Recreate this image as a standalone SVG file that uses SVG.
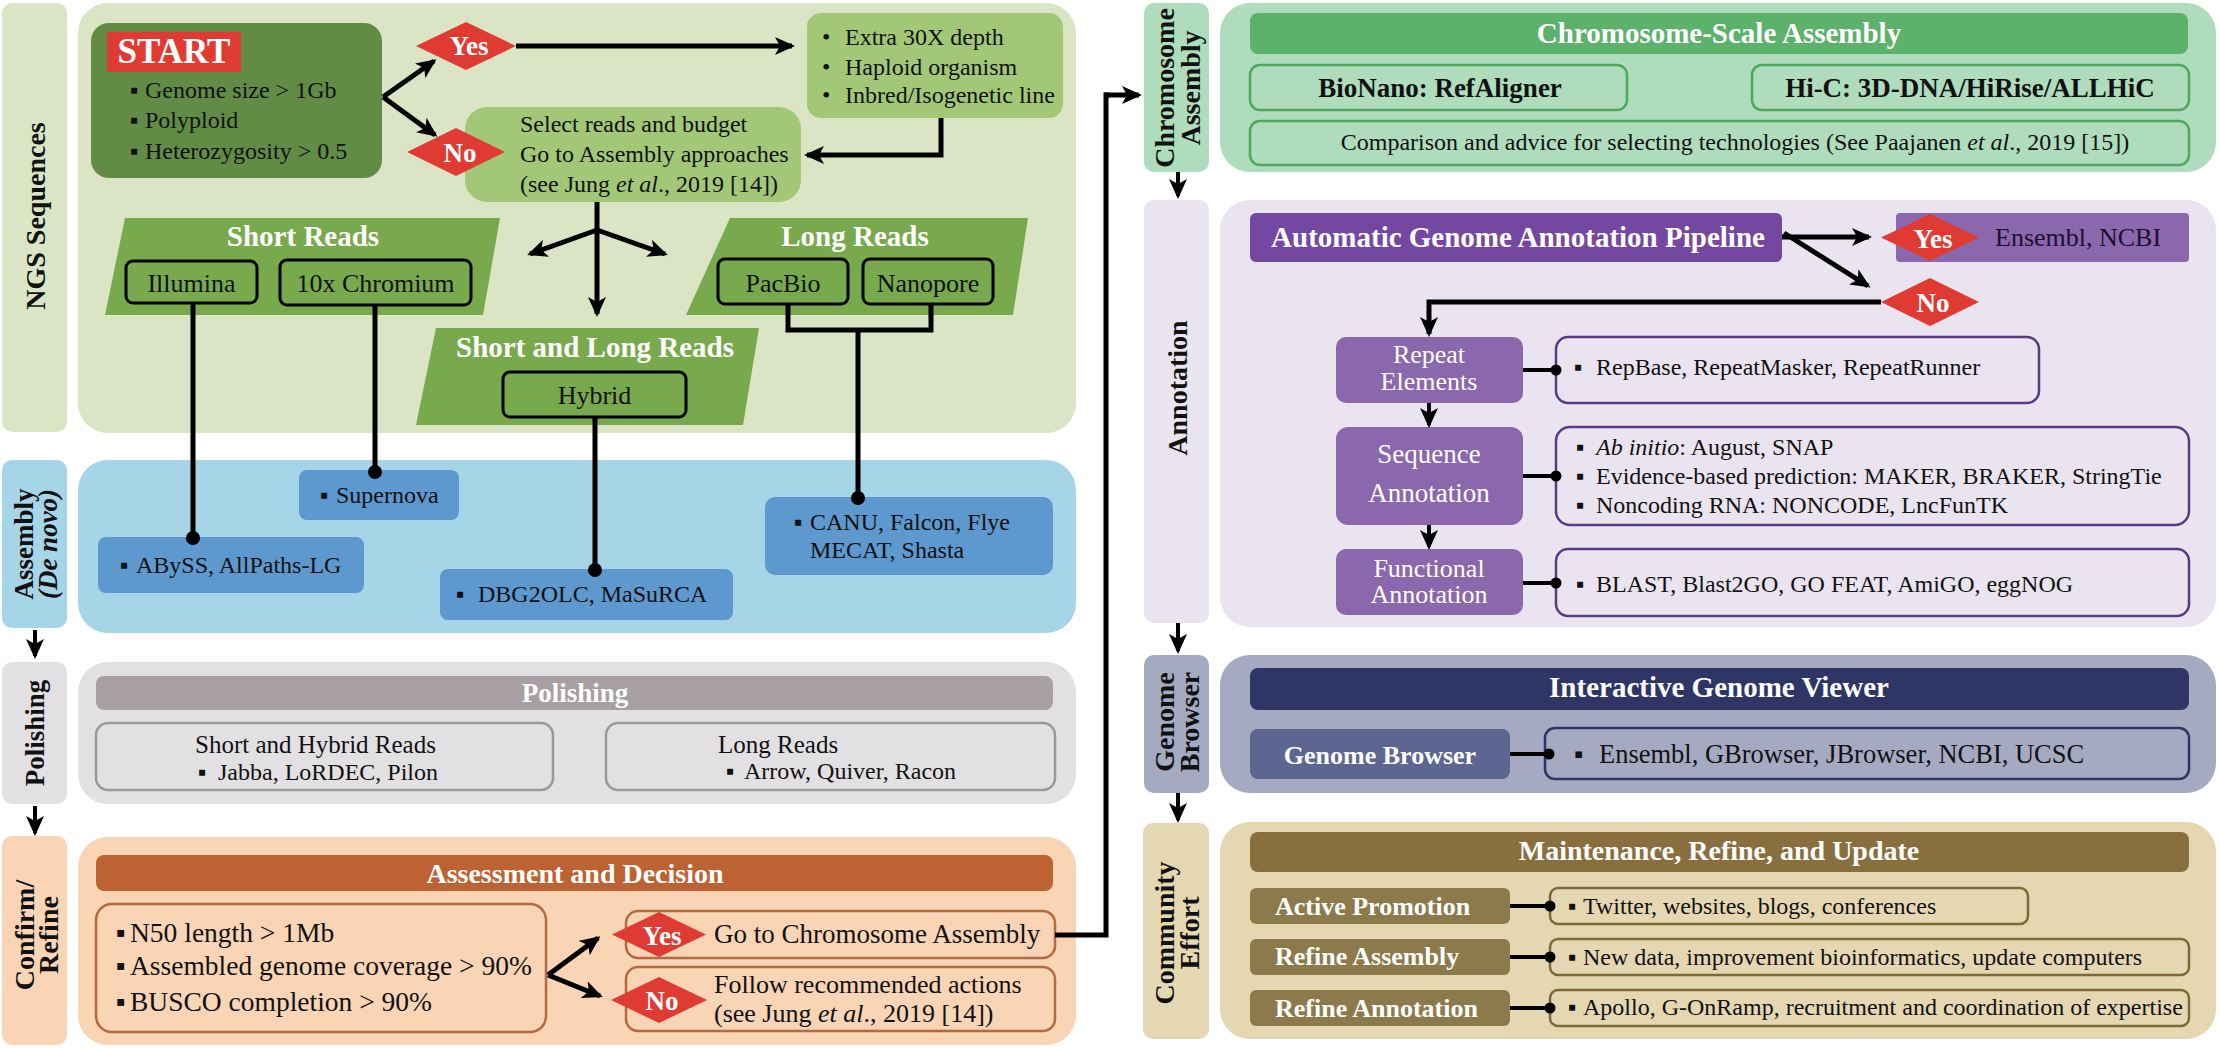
<svg xmlns="http://www.w3.org/2000/svg" width="2220" height="1048" viewBox="0 0 2220 1048">
<defs>
<style>
text{font-family:"Liberation Serif","Times New Roman",serif;fill:#111}
.b{font-weight:bold}
.w{fill:#fff}
.c{text-anchor:middle}
.it{font-style:italic}
.rl{text-anchor:middle;dominant-baseline:central;font-weight:bold;font-size:28px}
.f24{font-size:24px}
.f26{font-size:26px}
.f27{font-size:27px}
.f28{font-size:28px}
.f29{font-size:29px}
.ln{stroke:#000;stroke-width:5;fill:none}
.ln4{stroke:#000;stroke-width:4;fill:none}
.arr{marker-end:url(#ah)}
.red{fill:#e03b33}
.box{stroke:#000;stroke-width:3;fill:#78a94c}
</style>
<marker id="ah" viewBox="0 0 20 18" refX="17" refY="9" markerWidth="20" markerHeight="18" markerUnits="userSpaceOnUse" orient="auto"><path d="M0,0 L20,9 L0,18 L5,9 z" fill="#000"/></marker>
</defs>
<rect x="0" y="0" width="2220" height="1048" fill="#fff"/>

<!-- ===== Lane backgrounds ===== -->
<g id="lane-ngs">
<rect x="2" y="3" width="65" height="429" rx="10" fill="#dbe5c6"/>
<text class="rl" font-size="27" transform="translate(35,216) rotate(-90)">NGS Sequences</text>
<rect x="78" y="3" width="998" height="430" rx="30" fill="#dbe5c6"/>
</g>
<g id="lane-assembly">
<rect x="2" y="460" width="65" height="168" rx="10" fill="#a7d5e8"/>
<text class="rl" style="font-size:27px" transform="translate(35,544) rotate(-90)"><tspan x="0" y="-11">Assembly</tspan><tspan x="0" y="13" font-style="italic">(De novo)</tspan></text>
<rect x="78" y="460" width="998" height="173" rx="30" fill="#a7d5e8"/>
</g>
<g id="lane-polishing">
<rect x="2" y="662" width="65" height="142" rx="10" fill="#e3e0e3"/>
<text class="rl" style="font-size:27px" transform="translate(35,733) rotate(-90)">Polishing</text>
<rect x="78" y="662" width="998" height="142" rx="30" fill="#e3e0e3"/>
</g>
<g id="lane-confirm">
<rect x="2" y="836" width="65" height="209" rx="10" fill="#f9d4b5"/>
<text class="rl" transform="translate(35,935) rotate(-90)"><tspan x="0" y="-11">Confirm/</tspan><tspan x="0" y="13">Refine</tspan></text>
<rect x="78" y="837" width="998" height="208" rx="30" fill="#f9d4b5"/>
</g>
<g id="lane-chromosome">
<rect x="1144" y="3" width="65" height="169" rx="10" fill="#aedcbd"/>
<text class="rl" transform="translate(1176.5,88) rotate(-90)"><tspan x="0" y="-13">Chromosome</tspan><tspan x="0" y="13">Assembly</tspan></text>
<rect x="1220" y="3" width="996" height="169" rx="30" fill="#aedcbd"/>
</g>
<g id="lane-annotation">
<rect x="1144" y="200" width="65" height="423" rx="10" fill="#e9e4f0"/>
<text class="rl" transform="translate(1177,388) rotate(-90)">Annotation</text>
<rect x="1220" y="200" width="996" height="427" rx="30" fill="#e9e4f0"/>
</g>
<g id="lane-browser">
<rect x="1144" y="655" width="65" height="138" rx="10" fill="#a5a9c2"/>
<text class="rl" transform="translate(1176.5,722) rotate(-90)"><tspan x="0" y="-12.5">Genome</tspan><tspan x="0" y="12.5">Browser</tspan></text>
<rect x="1220" y="655" width="996" height="138" rx="30" fill="#a5a9c2"/>
</g>
<g id="lane-community">
<rect x="1143" y="823" width="66" height="216" rx="10" fill="#e5d7b2"/>
<text class="rl" transform="translate(1176.5,933) rotate(-90)"><tspan x="0" y="-12.5">Community</tspan><tspan x="0" y="12.5">Effort</tspan></text>
<rect x="1220" y="822" width="996" height="217" rx="30" fill="#e5d7b2"/>
</g>

<!-- ===== NGS nodes ===== -->
<g id="start">
<rect x="91" y="23" width="291" height="155" rx="18" fill="#628b46"/>
<rect x="107" y="32" width="134" height="40" fill="#e03b33"/>
<text class="b w c" x="174" y="63" font-size="35">START</text>
<text class="f24" x="130" y="98">▪<tspan x="145">Genome size &gt; 1Gb</tspan></text>
<text class="f24" x="130" y="128">▪<tspan x="145">Polyploid</tspan></text>
<text class="f24" x="130" y="159">▪<tspan x="145">Heterozygosity &gt; 0.5</tspan></text>
</g>
<g id="extra">
<rect x="807" y="13" width="256" height="105" rx="14" fill="#a2c777"/>
<text class="f24" x="822" y="45">•<tspan x="845">Extra 30X depth</tspan></text>
<text class="f24" x="822" y="75">•<tspan x="845">Haploid organism</tspan></text>
<text class="f24" x="822" y="103">•<tspan x="845">Inbred/Isogenetic line</tspan></text>
</g>
<g id="select">
<rect x="465" y="107" width="336" height="95" rx="22" fill="#a2c777"/>
<text class="f24" x="520" y="132">Select reads and budget</text>
<text class="f24" x="520" y="162">Go to Assembly approaches</text>
<text class="f24" x="520" y="192">(see Jung <tspan font-style="italic">et al</tspan>., 2019 [14])</text>
</g>
<g id="yes1">
<polygon class="red" points="416,46 466,22 516,46 466,70"/>
<text class="b w c f27" x="469" y="55">Yes</text>
</g>
<g id="no1">
<polygon class="red" points="407,152 456,128 505,152 456,176"/>
<text class="b w c f27" x="460" y="162">No</text>
</g>
<g id="short-reads">
<polygon points="125,218 500,218 483,315 105,315" fill="#78a94c"/>
<text class="b w c f29" x="303" y="246">Short Reads</text>
</g>
<g id="illumina">
<rect class="box" x="126" y="261" width="131" height="42" rx="7"/>
<text class="c f26" x="191.5" y="292">Illumina</text>
</g>
<g id="chromium">
<rect class="box" x="280" y="260" width="191" height="45" rx="7"/>
<text class="c f26" x="375.5" y="292">10x Chromium</text>
</g>
<g id="long-reads">
<polygon points="730,218 1028,218 1013,315 686,315" fill="#78a94c"/>
<text class="b w c f29" x="855" y="246">Long Reads</text>
</g>
<g id="pacbio">
<rect class="box" x="718" y="259" width="130" height="45" rx="7"/>
<text class="c f26" x="783" y="292">PacBio</text>
</g>
<g id="nanopore">
<rect class="box" x="863" y="259" width="130" height="45" rx="7"/>
<text class="c f26" x="928" y="292">Nanopore</text>
</g>
<g id="short-long">
<polygon points="436,328 759,328 743,425 416,425" fill="#78a94c"/>
<text class="b w c f29" x="595" y="357">Short and Long Reads</text>
</g>
<g id="hybrid">
<rect class="box" x="503" y="372" width="183" height="45" rx="7"/>
<text class="c f26" x="594.5" y="404">Hybrid</text>
</g>

<!-- ===== Assembly nodes ===== -->
<g id="supernova">
<rect x="299" y="470" width="160" height="50" rx="8" fill="#5d98cf"/>
<text class="f24" x="320" y="503">▪<tspan x="336">Supernova</tspan></text>
</g>
<g id="abyss">
<rect x="98" y="537" width="266" height="56" rx="8" fill="#5d98cf"/>
<text class="f24" x="120" y="573">▪<tspan x="136">ABySS, AllPaths-LG</tspan></text>
</g>
<g id="dbg2olc">
<rect x="440" y="569" width="293" height="51" rx="8" fill="#5d98cf"/>
<text class="f24" x="456" y="602">▪<tspan x="478">DBG2OLC, MaSuRCA</tspan></text>
</g>
<g id="canu">
<rect x="765" y="497" width="288" height="78" rx="10" fill="#5d98cf"/>
<text class="f24" x="794" y="530">▪<tspan x="810">CANU, Falcon, Flye</tspan></text>
<text class="f24" x="810" y="558">MECAT, Shasta</text>
</g>

<!-- ===== Polishing nodes ===== -->
<g id="polish-header">
<rect x="96" y="676" width="957" height="34" rx="8" fill="#a79fa3"/>
<text class="b w c" x="575" y="702" font-size="27">Polishing</text>
</g>
<g id="polish-short">
<rect x="96" y="723" width="457" height="67" rx="12" fill="none" stroke="#9b979a" stroke-width="2.5"/>
<text x="195" y="753" font-size="25">Short and Hybrid Reads</text>
<text class="f24" x="198" y="780">▪<tspan x="218">Jabba, LoRDEC, Pilon</tspan></text>
</g>
<g id="polish-long">
<rect x="606" y="723" width="449" height="67" rx="12" fill="none" stroke="#9b979a" stroke-width="2.5"/>
<text x="718" y="753" font-size="25">Long Reads</text>
<text class="f24" x="726" y="779">▪<tspan x="744">Arrow, Quiver, Racon</tspan></text>
</g>

<!-- ===== Confirm nodes ===== -->
<g id="assess-header">
<rect x="96" y="855" width="957" height="36" rx="8" fill="#bd6333"/>
<text class="b w c f28" x="575" y="883">Assessment and Decision</text>
</g>
<g id="criteria">
<rect x="96" y="904" width="450" height="128" rx="16" fill="none" stroke="#b46a40" stroke-width="2.5"/>
<text x="116" y="942" font-size="27.5">▪<tspan x="130">N50 length &gt; 1Mb</tspan></text>
<text x="116" y="975" font-size="27.5">▪<tspan x="130">Assembled genome coverage &gt; 90%</tspan></text>
<text x="116" y="1011" font-size="27.5">▪<tspan x="130">BUSCO completion &gt; 90%</tspan></text>
</g>
<g id="go-chrom">
<rect x="626" y="911" width="429" height="47" rx="12" fill="none" stroke="#b46a40" stroke-width="2.5"/>
<text class="f27" x="714" y="943">Go to Chromosome Assembly</text>
<polygon class="red" points="612,934.5 659,912 706,934.5 659,957"/>
<text class="b w c f27" x="662" y="945">Yes</text>
</g>
<g id="follow">
<rect x="626" y="967" width="429" height="64" rx="12" fill="none" stroke="#b46a40" stroke-width="2.5"/>
<text class="f26" x="714" y="993">Follow recommended actions</text>
<text class="f26" x="714" y="1022">(see Jung <tspan font-style="italic">et al</tspan>., 2019 [14])</text>
<polygon class="red" points="611,1000 659,977 707,1000 659,1023"/>
<text class="b w c f27" x="662" y="1010">No</text>
</g>

<!-- ===== Chromosome nodes ===== -->
<g id="chrom-header">
<rect x="1250" y="13" width="938" height="41" rx="8" fill="#5cb26a"/>
<text class="b w c f29" x="1719" y="43">Chromosome-Scale Assembly</text>
</g>
<g id="bionano">
<rect x="1250" y="65" width="377" height="45" rx="10" fill="none" stroke="#4fa85e" stroke-width="2.5"/>
<text class="b c f27" x="1440" y="97">BioNano: RefAligner</text>
</g>
<g id="hic">
<rect x="1752" y="65" width="437" height="45" rx="10" fill="none" stroke="#4fa85e" stroke-width="2.5"/>
<text class="b c f27" x="1970" y="97">Hi-C: 3D-DNA/HiRise/ALLHiC</text>
</g>
<g id="comparison">
<rect x="1250" y="121" width="939" height="44" rx="10" fill="none" stroke="#4fa85e" stroke-width="2.5"/>
<text class="c f24" x="1735" y="150">Comparison and advice for selecting technologies (See Paajanen <tspan font-style="italic">et al</tspan>., 2019 [15])</text>
</g>

<!-- ===== Annotation nodes ===== -->
<g id="pipeline">
<rect x="1250" y="213" width="532" height="49" rx="6" fill="#7448a1"/>
<text class="b w c f29" x="1518" y="247">Automatic Genome Annotation Pipeline</text>
</g>
<g id="ensembl-ncbi">
<rect x="1896" y="213" width="293" height="49" rx="4" fill="#8b68ad"/>
<text class="f26" x="1995" y="246" style="fill:#1a1030">Ensembl, NCBI</text>
<polygon class="red" points="1881,237.5 1930,214 1979,237.5 1930,261"/>
<text class="b w c f27" x="1933" y="248">Yes</text>
</g>
<g id="no2">
<polygon class="red" points="1881,302 1930,278 1979,302 1930,326"/>
<text class="b w c f27" x="1933" y="312">No</text>
</g>
<g id="repeat">
<rect x="1336" y="337" width="187" height="66" rx="10" fill="#8b68ad"/>
<text class="w c f26" x="1429" y="363">Repeat</text>
<text class="w c f26" x="1429" y="390">Elements</text>
</g>
<g id="repeat-tools">
<rect x="1556" y="337" width="483" height="66" rx="12" fill="none" stroke="#5a3a80" stroke-width="2.5"/>
<text class="f24" x="1574" y="375">▪<tspan x="1596">RepBase, RepeatMasker, RepeatRunner</tspan></text>
</g>
<g id="sequence">
<rect x="1336" y="427" width="187" height="98" rx="12" fill="#8b68ad"/>
<text class="w c f27" x="1429" y="463">Sequence</text>
<text class="w c f27" x="1429" y="502">Annotation</text>
</g>
<g id="sequence-tools">
<rect x="1556" y="427" width="633" height="98" rx="14" fill="none" stroke="#5a3a80" stroke-width="2.5"/>
<text class="f24" x="1576" y="455">▪<tspan x="1596" font-style="italic">Ab initio</tspan>: August, SNAP</text>
<text class="f24" x="1576" y="484">▪<tspan x="1596">Evidence-based prediction: MAKER, BRAKER, StringTie</tspan></text>
<text class="f24" x="1576" y="513">▪<tspan x="1596">Noncoding RNA: NONCODE, LncFunTK</tspan></text>
</g>
<g id="functional">
<rect x="1336" y="549" width="187" height="66" rx="10" fill="#8b68ad"/>
<text class="w c f26" x="1429" y="577">Functional</text>
<text class="w c f26" x="1429" y="603">Annotation</text>
</g>
<g id="functional-tools">
<rect x="1556" y="549" width="633" height="67" rx="12" fill="none" stroke="#5a3a80" stroke-width="2.5"/>
<text class="f24" x="1576" y="592">▪<tspan x="1596">BLAST, Blast2GO, GO FEAT, AmiGO, eggNOG</tspan></text>
</g>

<!-- ===== Genome Browser nodes ===== -->
<g id="viewer-header">
<rect x="1250" y="668" width="939" height="42" rx="8" fill="#2f3565"/>
<text class="b w c f29" x="1719" y="697">Interactive Genome Viewer</text>
</g>
<g id="genome-browser">
<rect x="1250" y="729" width="260" height="50" rx="8" fill="#5d6691"/>
<text class="b w c f26" x="1380" y="764">Genome Browser</text>
</g>
<g id="browser-tools">
<rect x="1545" y="728" width="644" height="51" rx="10" fill="none" stroke="#2f3565" stroke-width="2.5"/>
<text x="1574" y="763" font-size="26.5">▪<tspan x="1599">Ensembl, GBrowser, JBrowser, NCBI, UCSC</tspan></text>
</g>

<!-- ===== Community nodes ===== -->
<g id="maint-header">
<rect x="1250" y="832" width="939" height="40" rx="8" fill="#896f3e"/>
<text class="b w c f28" x="1719" y="860">Maintenance, Refine, and Update</text>
</g>
<g id="active-promotion">
<rect x="1250" y="888" width="260" height="36" rx="6" fill="#8c7a4d"/>
<text class="b w f26" x="1275" y="915">Active Promotion</text>
</g>
<g id="promotion-tools">
<rect x="1550" y="888" width="478" height="36" rx="8" fill="none" stroke="#7d6838" stroke-width="2.5"/>
<text class="f24" x="1568" y="914">▪<tspan x="1583">Twitter, websites, blogs, conferences</tspan></text>
</g>
<g id="refine-assembly">
<rect x="1250" y="939" width="260" height="36" rx="6" fill="#8c7a4d"/>
<text class="b w f26" x="1275" y="965">Refine Assembly</text>
</g>
<g id="refine-assembly-tools">
<rect x="1550" y="939" width="639" height="36" rx="8" fill="none" stroke="#7d6838" stroke-width="2.5"/>
<text class="f24" x="1568" y="965">▪<tspan x="1583">New data, improvement bioinformatics, update computers</tspan></text>
</g>
<g id="refine-annotation">
<rect x="1250" y="990" width="260" height="36" rx="6" fill="#8c7a4d"/>
<text class="b w f26" x="1275" y="1017">Refine Annotation</text>
</g>
<g id="refine-annotation-tools">
<rect x="1550" y="990" width="639" height="36" rx="8" fill="none" stroke="#7d6838" stroke-width="2.5"/>
<text class="f24" x="1568" y="1015">▪<tspan x="1583">Apollo, G-OnRamp, recruitment and coordination of expertise</tspan></text>
</g>

<!-- ===== Connectors ===== -->
<g id="connectors">
<path class="ln arr" d="M383,97 L434,61"/>
<path class="ln arr" d="M383,97 L435,135"/>
<path class="ln arr" d="M516,46 L792,46"/>
<path class="ln arr" d="M941,118 L941,155 L807,155"/>
<path class="ln arr" d="M597,202 L597,314"/>
<path class="ln arr" d="M597,230 L530,254"/>
<path class="ln arr" d="M597,230 L665,254"/>
<path class="ln" d="M193,303 L193,538"/>
<circle cx="193" cy="538" r="7" fill="#000"/>
<path class="ln" d="M375,305 L375,472"/>
<circle cx="375" cy="472" r="7" fill="#000"/>
<path class="ln" d="M595,417 L595,570"/>
<circle cx="595" cy="570" r="7" fill="#000"/>
<path class="ln" d="M788,304 L788,330 L931,330 L931,304"/>
<path class="ln" d="M858,330 L858,498"/>
<circle cx="858" cy="498" r="7" fill="#000"/>
<path class="ln4 arr" d="M35,630 L35,656"/>
<path class="ln4 arr" d="M35,806 L35,833"/>
<path class="ln arr" d="M548,975 L598,938"/>
<path class="ln arr" d="M548,975 L600,996"/>
<path class="ln" d="M1055,935 L1106,935 L1106,95 L1110,95"/>
<path class="ln arr" d="M1104,95 L1139,95"/>
<path class="ln4 arr" d="M1178,172 L1178,196"/>
<path class="ln arr" d="M1782,237 L1869,237"/>
<path class="ln arr" d="M1784,233 L1868,286"/>
<path class="ln arr" d="M1881,302 L1429,302 L1429,334"/>
<path class="ln4" d="M1523,370 L1556,370"/>
<circle cx="1556" cy="370" r="5.5" fill="#000"/>
<path class="ln4 arr" d="M1429,403 L1429,425"/>
<path class="ln4" d="M1523,476 L1556,476"/>
<circle cx="1556" cy="476" r="5.5" fill="#000"/>
<path class="ln4 arr" d="M1429,525 L1429,547"/>
<path class="ln4" d="M1523,583 L1556,583"/>
<circle cx="1556" cy="583" r="5.5" fill="#000"/>
<path class="ln4 arr" d="M1178,623 L1178,651"/>
<path class="ln4" d="M1510,754 L1549,754"/>
<circle cx="1549" cy="754" r="5.5" fill="#000"/>
<path class="ln4 arr" d="M1178,793 L1178,820"/>
<path class="ln4" d="M1510,906 L1550,906"/>
<circle cx="1550" cy="906" r="5.5" fill="#000"/>
<path class="ln4" d="M1510,957 L1550,957"/>
<circle cx="1550" cy="957" r="5.5" fill="#000"/>
<path class="ln4" d="M1510,1008 L1550,1008"/>
<circle cx="1550" cy="1008" r="5.5" fill="#000"/>
</g>
</svg>
